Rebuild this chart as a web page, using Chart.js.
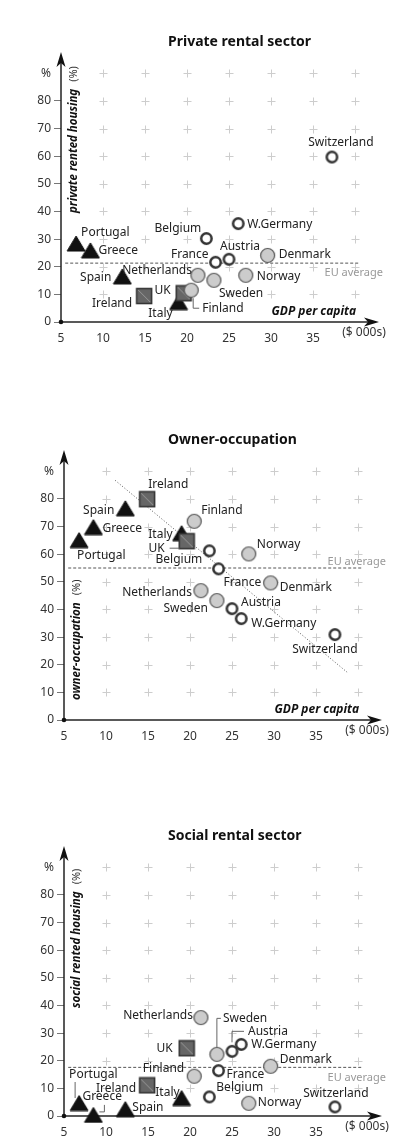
<!DOCTYPE html>
<html>
<head>
<meta charset="utf-8">
<script src="https://cdn.jsdelivr.net/npm/chart.js@4.4.1/dist/chart.umd.min.js"></script>
<style>
  html, body { margin: 0; padding: 0; background: #fff; }
  #page { position: relative; width: 407px; height: 1145px; }
  .panel { position: absolute; left: 0; width: 407px; height: 360px; }
</style>
</head>
<body>
<div id="page">
  <div class="panel" style="top:0px"><canvas id="c1" width="407" height="360"></canvas></div>
  <div class="panel" style="top:398px"><canvas id="c2" width="407" height="360"></canvas></div>
  <div class="panel" style="top:794px"><canvas id="c3" width="407" height="360"></canvas></div>
</div>
<script>
/* ---------- Data ---------- */
const countries = ['Portugal','Greece','Spain','Italy','Ireland','UK','Finland','Sweden',
                   'Norway','Denmark','Netherlands','Belgium','France','Austria','W.Germany','Switzerland'];
const groups    = ['tri','tri','tri','tri','sq','sq','grey','grey',
                   'grey','grey','grey','open','open','open','open','open'];
// GDP per capita ($ 000s)
const gdp           = [6.8, 8.5, 12.3, 19.0, 14.9, 19.6, 20.5, 23.2, 27.0, 29.6, 21.3, 22.3, 23.4, 25.0, 26.1, 37.25];
// tenure shares (%)
const privateRented = [28.4, 25.9, 16.5, 7.2, 9.4, 10.4, 11.5, 15.1, 16.9, 24.1, 16.9, 30.2, 21.6, 22.7, 35.6, 59.7];
const ownerOccupied = [65.1, 69.8, 76.6, 67.6, 79.9, 64.7, 71.9, 43.2, 60.1, 49.6, 46.8, 61.2, 54.7, 40.3, 36.7, 30.9];
const socialRented  = [4.7, 0.4, 2.5, 6.5, 11.1, 24.5, 14.4, 22.3, 4.6, 18.0, 35.6, 6.9, 16.4, 23.4, 25.9, 3.3];

const euPrivate = 21.3;
const euOwner   = 55;
const euSocial  = 17.6;
const euLineX   = [5.5, 40.4];

const ownerTrendX = [11.1, 38.7];
const ownerTrendY = [86.7, 17.3];

const xTicks = [5, 10, 15, 20, 25, 30, 35, 40];
const yTicks = [0, 10, 20, 30, 40, 50, 60, 70, 80, 90];
const crossX = [10, 15, 20, 25, 30, 35, 40];
const crossY = [10, 20, 30, 40, 50, 60, 70, 80, 90];

/* ---------- Label placement (px offsets from the point) ---------- */
const labels1 = [[5,-11,'left'],[8,0,'left'],[-11,1,'right'],[-6,11,'right'],[-12,8,'right'],[-13,-3,'right'],
  [11,18,'left'],[5,13,'left'],[11,1,'left'],[11,-1,'left'],[-6,-5,'right'],[-5,-10,'right'],[-7,-8,'right'],
  [11,-13,'center'],[9,1,'left'],[9,-14,'center']];
const labels2 = [[-2,15,'left'],[9,1,'left'],[-11,2,'right'],[-9,1,'right'],[1,-15,'left'],[-22,7,'right'],
  [7,-11,'left'],[-9,8,'right'],[8,-9,'left'],[9,5,'left'],[-9,2,'right'],[-7,9,'right'],[5,14,'left'],
  [9,-6,'left'],[10,5,'left'],[-10,15,'center']];
const labels3 = [[-10,-28,'left'],[-11,-18,'left'],[7,-2,'left'],[-2,-5,'right'],[-11,3,'right'],[-14,0,'right'],
  [-10,-8,'right'],[6,-36,'left'],[9,-1,'left'],[9,-7,'left'],[-8,-2,'right'],[7,-9,'left'],[8,4,'left'],
  [16,-20,'left'],[10,0,'left'],[1,-13,'center']];

const conn1 = [[6, [[2,8],[2,18],[8,18]]]];
const conn2 = [[5, [[-17,7],[-7,7]]]];
const conn3 = [[7, [[0,-7],[0,-36],[4,-36]]], [13, [[0,-9],[0,-20],[12,-20]]],
               [0, [[-4,-21],[-4,-5]]], [1, [[11,-10],[11,-3],[6,-3]]]];

const FONT = '"Noto Sans", sans-serif';

/* ---------- Markers ---------- */
function marker(kind) {
  const c = document.createElement('canvas');
  let g;
  if (kind === 'tri') {
    c.width = 20; c.height = 17; g = c.getContext('2d');
    g.beginPath(); g.moveTo(10, 1); g.lineTo(19, 16); g.lineTo(1, 16); g.closePath();
    g.fillStyle = '#111'; g.fill(); g.strokeStyle = '#111'; g.lineWidth = 1; g.stroke();
  } else if (kind === 'sq') {
    c.width = 18; c.height = 18; g = c.getContext('2d');
    g.fillStyle = '#666'; g.fillRect(1.5, 1.5, 15, 15);
    g.strokeStyle = '#999'; g.lineWidth = 1;
    g.beginPath(); g.moveTo(3, 3); g.lineTo(15, 15); g.stroke();
    g.strokeStyle = '#333'; g.lineWidth = 1.5; g.strokeRect(1.5, 1.5, 15, 15);
  } else if (kind === 'grey') {
    c.width = 17; c.height = 17; g = c.getContext('2d');
    g.beginPath(); g.arc(8.5, 8.5, 7, 0, Math.PI * 2);
    g.fillStyle = '#ccc'; g.fill(); g.strokeStyle = '#555'; g.lineWidth = 1.2; g.stroke();
  } else {
    c.width = 15; c.height = 15; g = c.getContext('2d');
    g.beginPath(); g.arc(7.5, 7.5, 5.2, 0, Math.PI * 2);
    g.fillStyle = '#fff'; g.fill(); g.strokeStyle = '#333'; g.lineWidth = 2.5; g.stroke();
  }
  return c;
}
const markers = { tri: marker('tri'), sq: marker('sq'), grey: marker('grey'), open: marker('open') };

/* ---------- Decoration plugin ---------- */
function decor(p) {
  return {
    id: 'decor_' + p.id,
    beforeDatasetsDraw(chart) {
      const ctx = chart.ctx, a = chart.chartArea;
      const sx = chart.scales.x, sy = chart.scales.y;
      ctx.save();
      // crosses
      ctx.strokeStyle = '#cdcdcd'; ctx.lineWidth = 1;
      crossX.forEach(xv => crossY.forEach(yv => {
        const x = Math.round(sx.getPixelForValue(xv)) + 0.5, y = Math.round(sy.getPixelForValue(yv)) + 0.5;
        ctx.beginPath(); ctx.moveTo(x - 4, y); ctx.lineTo(x + 4, y);
        ctx.moveTo(x, y - 4); ctx.lineTo(x, y + 4); ctx.stroke();
      }));
      // axes with arrows
      const ox = a.left, oy = a.bottom;
      ctx.strokeStyle = '#222'; ctx.fillStyle = '#111'; ctx.lineWidth = 1.5;
      ctx.beginPath(); ctx.moveTo(ox, oy); ctx.lineTo(ox, a.top + 8); ctx.stroke();
      ctx.beginPath(); ctx.moveTo(ox, oy); ctx.lineTo(a.right - 6, oy); ctx.stroke();
      ctx.beginPath(); ctx.moveTo(ox, a.top); ctx.lineTo(ox - 4.5, a.top + 15);
      ctx.lineTo(ox, a.top + 11); ctx.lineTo(ox + 4.5, a.top + 15); ctx.closePath(); ctx.fill();
      const tip = a.right + 3;
      ctx.beginPath(); ctx.moveTo(tip, oy); ctx.lineTo(tip - 15, oy - 4.5);
      ctx.lineTo(tip - 11, oy); ctx.lineTo(tip - 15, oy + 4.5); ctx.closePath(); ctx.fill();
      ctx.beginPath(); ctx.arc(ox, oy, 2.3, 0, Math.PI * 2); ctx.fill();
      ctx.restore();
    },
    afterDatasetsDraw(chart) {
      const ctx = chart.ctx, a = chart.chartArea;
      const sx = chart.scales.x, sy = chart.scales.y;
      ctx.save();
      ctx.textBaseline = 'middle';
      // title
      ctx.fillStyle = '#111'; ctx.font = 'bold 14px ' + FONT; ctx.textAlign = 'left';
      ctx.fillText(p.title, 168, 42);
      // unit on x axis
      ctx.fillStyle = '#333'; ctx.font = '12px ' + FONT; ctx.textAlign = 'center';
      ctx.fillText('($ 000s)', sx.getPixelForValue(40) + 9, a.bottom + 11);
      // y axis title (rotated)
      ctx.save();
      ctx.translate(a.left + 13, p.yTitleBottom); ctx.rotate(-Math.PI / 2);
      ctx.textAlign = 'left'; ctx.fillStyle = '#111';
      ctx.font = 'italic bold 11.5px ' + FONT;
      ctx.fillText(p.yTitle, 0, 0);
      const w = ctx.measureText(p.yTitle).width;
      ctx.font = '11px ' + FONT; ctx.fillStyle = '#333';
      ctx.fillText('(%)', w + 7, 0);
      ctx.restore();
      // x axis title
      if (p.gdpLabel) {
        ctx.textAlign = 'right'; ctx.fillStyle = '#111'; ctx.font = 'italic bold 12px ' + FONT;
        ctx.fillText('GDP per capita', sx.getPixelForValue(40) + 1, a.bottom - 10);
      }
      // EU average label
      const ey = sy.getPixelForValue(p.eu);
      ctx.textAlign = 'right'; ctx.fillStyle = '#999'; ctx.font = '11px ' + FONT;
      ctx.fillText('EU average', a.right + 7, p.euBelow ? ey + 10 : ey - 6);
      // connectors
      ctx.strokeStyle = '#666'; ctx.lineWidth = 1;
      p.connectors.forEach(([i, pts]) => {
        const x0 = sx.getPixelForValue(gdp[i]), y0 = sy.getPixelForValue(p.values[i]);
        ctx.beginPath();
        pts.forEach(([dx, dy], k) => k ? ctx.lineTo(x0 + dx, y0 + dy) : ctx.moveTo(x0 + dx, y0 + dy));
        ctx.stroke();
      });
      // country labels
      ctx.fillStyle = '#222'; ctx.font = '12px ' + FONT;
      countries.forEach((name, i) => {
        const [dx, dy, al] = p.labels[i];
        ctx.textAlign = al;
        ctx.fillText(name, sx.getPixelForValue(gdp[i]) + dx, sy.getPixelForValue(p.values[i]) + dy);
      });
      ctx.restore();
    }
  };
}

/* ---------- Charts ---------- */
function makeChart(p) {
  const datasets = ['open', 'grey', 'sq', 'tri'].map(k => ({
    data: countries.map((n, i) => ({ x: gdp[i], y: p.values[i], g: groups[i] })).filter(d => d.g === k),
    pointStyle: markers[k], pointRadius: 7, clip: false, order: 0
  }));
  datasets.push({
    data: euLineX.map(x => ({ x, y: p.eu })), showLine: true, pointRadius: 0,
    borderColor: '#555', borderWidth: 1, borderDash: [3, 2], order: 10
  });
  if (p.trend) {
    datasets.push({
      data: p.trend[0].map((x, i) => ({ x, y: p.trend[1][i] })), showLine: true, pointRadius: 0,
      borderColor: '#555', borderWidth: 1, borderDash: [1, 2], order: 10
    });
  }
  return new Chart(document.getElementById(p.id), {
    type: 'scatter',
    data: { datasets },
    options: {
      responsive: false, animation: false,
      layout: { padding: { top: 52, right: 407 - p.axisX - 315, bottom: 0, left: 0 } },
      plugins: { legend: { display: false }, tooltip: { enabled: false } },
      scales: {
        x: {
          type: 'linear', min: 5, max: 42.5,
          afterBuildTicks: s => { s.ticks = xTicks.map(v => ({ value: v })); },
          afterFit: s => { s.height = 38; },
          grid: { display: false }, border: { display: false },
          ticks: { padding: 1, color: '#333', autoSkip: false, maxRotation: 0,
                   font: { family: FONT, size: 12 }, callback: v => v === 40 ? '' : v }
        },
        y: {
          min: 0, max: 97.7,
          afterBuildTicks: s => { s.ticks = yTicks.map(v => ({ value: v })); },
          afterFit: s => { s.width = p.axisX; },
          grid: { display: true, drawOnChartArea: false, drawTicks: true, tickLength: 7, lineWidth: 1,
                  color: c => (c.tick && c.tick.value === 90) ? 'rgba(0,0,0,0)' : '#777' },
          border: { display: false },
          ticks: { padding: 3, color: '#333', autoSkip: false,
                   font: { family: FONT, size: 12 }, callback: v => v === 90 ? '%' : v }
        }
      }
    },
    plugins: [decor(p)]
  });
}

const panels = [
  { id: 'c1', title: 'Private rental sector', values: privateRented, eu: euPrivate, euBelow: true,
    axisX: 61, yTitle: 'private rented housing', yTitleBottom: 213, gdpLabel: true,
    labels: labels1, connectors: conn1, trend: null },
  { id: 'c2', title: 'Owner-occupation', values: ownerOccupied, eu: euOwner, euBelow: false,
    axisX: 64, yTitle: 'owner-occupation', yTitleBottom: 302, gdpLabel: true,
    labels: labels2, connectors: conn2, trend: [ownerTrendX, ownerTrendY] },
  { id: 'c3', title: 'Social rental sector', values: socialRented, eu: euSocial, euBelow: true,
    axisX: 64, yTitle: 'social rented housing', yTitleBottom: 214, gdpLabel: false,
    labels: labels3, connectors: conn3, trend: null }
];
panels.forEach(makeChart);
</script>
</body>
</html>
